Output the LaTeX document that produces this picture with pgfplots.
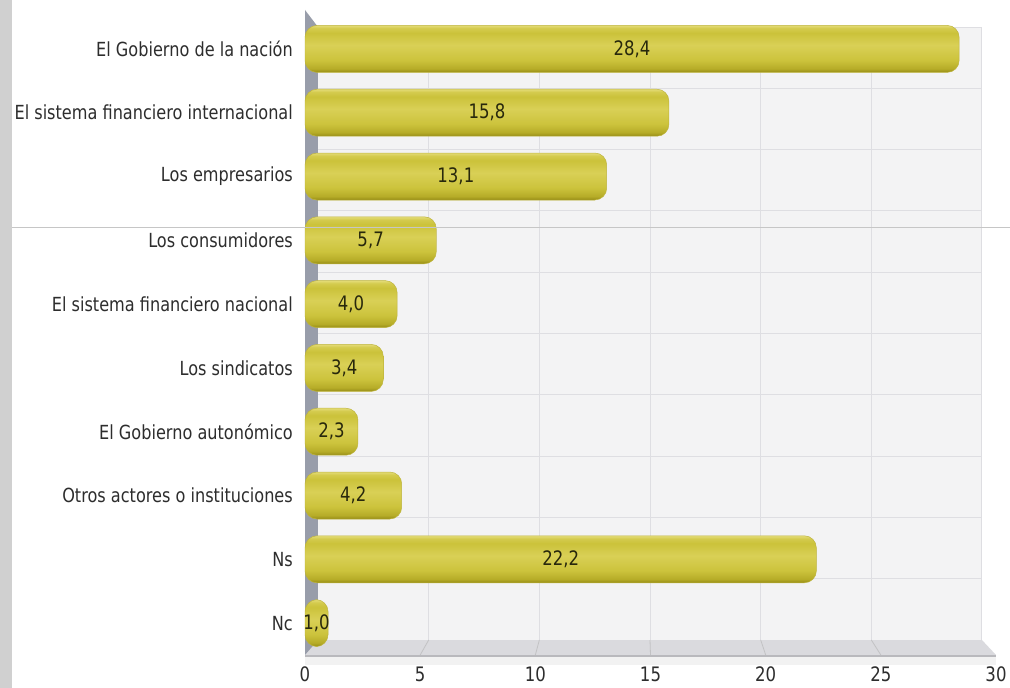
\documentclass[border=0pt]{standalone}
\usepackage{pgfplots}
\pgfplotsset{compat=1.18}
\usepackage{pgfplotstable}
\usepackage{fontspec}
\setmainfont{DejaVu Sans}[FakeStretch=0.83]
\definecolor{wallc}{RGB}{243,243,244}
\definecolor{gridc}{RGB}{222,222,226}
\definecolor{floorc}{RGB}{218,218,222}
\definecolor{leftwall}{RGB}{152,157,170}
\definecolor{striped}{RGB}{208,208,208}
\definecolor{baredge}{RGB}{190,180,60}
\definecolor{labc}{RGB}{45,45,45}
\definecolor{valc}{RGB}{40,40,12}
\definecolor{s0}{RGB}{150,140,22}
\definecolor{s1}{RGB}{182,172,40}
\definecolor{s2}{RGB}{204,195,60}
\definecolor{s3}{RGB}{217,208,86}
\definecolor{s4}{RGB}{203,194,58}
\definecolor{s5}{RGB}{212,203,78}
\definecolor{s6}{RGB}{228,220,120}
\pgfdeclareverticalshading{cylshade}{100bp}{color(0bp)=(s0); color(25bp)=(s0); color(29bp)=(s1); color(38bp)=(s2); color(54bp)=(s3); color(67bp)=(s4); color(72bp)=(s5); color(75bp)=(s6); color(100bp)=(s6)}

\pgfplotstableread{
idx val lab
1 28.4 28,4
2 15.8 15,8
3 13.1 13,1
4 5.7 5,7
5 4.0 4,0
6 3.4 3,4
7 2.3 2,3
8 4.2 4,2
9 22.2 22,2
10 1.0 1,0
}\datatable

\pgfplotsset{cyl/.style={xbar, bar shift=0pt, bar width=47bp, draw=baredge, line width=0.5bp,
  shading=cylshade, rounded corners=12bp}}

\begin{document}
\begin{tikzpicture}
\useasboundingbox (0,0) rectangle (1010bp,688bp);
\fill[white] (0,0) rectangle (1010bp,688bp);
\fill[striped] (0,0) rectangle (12bp,688bp);
\begin{axis}[
  at={(305bp,33bp)}, anchor=south west,
  scale only axis, width=691bp, height=638bp,
  xmin=0, xmax=30, ymin=0.5, ymax=10.5, y dir=reverse,
  xtick={0,5,...,30}, ytick={1,...,10},
  yticklabels={El Gobierno de la nación, El sistema financiero internacional, Los empresarios, Los consumidores, El sistema financiero nacional, Los sindicatos, El Gobierno autonómico, Otros actores o instituciones, Ns, Nc},
  axis line style={draw=none}, major tick length=0pt,
  clip=false,
  /pgf/number format/assume math mode=true,
  tick label style={font=\fontsize{19.5}{21}\selectfont, text=labc},
  xticklabel style={inner sep=0pt, yshift=-12bp, font=\fontsize{20}{22}\selectfont},
  yticklabel style={inner sep=0pt, xshift=-12bp},
]
% back wall
\fill[wallc] (axis cs:0.564,0.657) rectangle (axis cs:29.39,10.265);
\pgfplotsinvokeforeach{5,10,15,20,25}{
  \draw[gridc, line width=1bp] (axis cs:{0.564+0.961*#1},0.657) -- (axis cs:{0.564+0.961*#1},10.265);
}
\pgfplotsinvokeforeach{1,...,9}{
  \draw[gridc, line width=1bp] (axis cs:0.564,{0.657+0.961*#1}) -- (axis cs:29.39,{0.657+0.961*#1});
}
\draw[gridc, line width=1bp] (axis cs:0.564,0.657) -- (axis cs:29.39,0.657) -- (axis cs:29.39,10.265);
% floor
\fill[floorc] (axis cs:0,10.5) -- (axis cs:0.564,10.265) -- (axis cs:29.39,10.265) -- (axis cs:30,10.5) -- cycle;
\pgfplotsinvokeforeach{5,10,15,20,25}{
  \draw[gridc!70!gray, line width=0.8bp] (axis cs:#1,10.5) -- (axis cs:{0.564+0.961*#1},10.265);
}
\fill[floorc!85!black] (axis cs:0,10.5) rectangle (axis cs:30,10.53);
\fill[gray!10] (axis cs:0,10.53) rectangle (axis cs:30,10.65);
% left wall
\fill[leftwall] (axis cs:0,0.39) -- (axis cs:0.564,0.657) -- (axis cs:0.564,10.265) -- (axis cs:0,10.5) -- cycle;

\addplot[cyl] coordinates {(28.4,1)};
\addplot[cyl] coordinates {(15.8,2)};
\addplot[cyl] coordinates {(13.1,3)};
\addplot[cyl] coordinates {(5.7,4)};
\addplot[cyl] coordinates {(4.0,5)};
\addplot[cyl] coordinates {(3.4,6)};
\addplot[cyl] coordinates {(2.3,7)};
\addplot[cyl] coordinates {(4.2,8)};
\addplot[cyl] coordinates {(22.2,9)};
\addplot[cyl] coordinates {(1.0,10)};

\addplot[only marks, mark=none, point meta=explicit symbolic,
  nodes near coords,
  every node near coord/.style={anchor=center, text=valc, font=\fontsize{20}{22}\selectfont}]
  table[x expr=\thisrow{val}/2, y=idx, meta=lab] {\datatable};
\end{axis}
\draw[gray!45, line width=1bp] (12bp,460bp) -- (1010bp,460bp);
\end{tikzpicture}
\end{document}
